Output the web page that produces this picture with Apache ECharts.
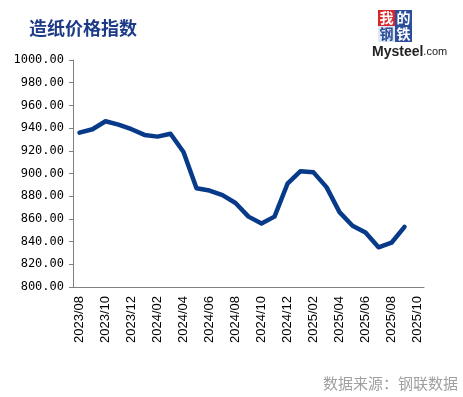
<!DOCTYPE html>
<html>
<head>
<meta charset="utf-8">
<script src="https://cdn.jsdelivr.net/npm/echarts@6/dist/echarts.min.js"></script>
<style>
  html, body { margin: 0; padding: 0; background: #fff; }
  #chart { width: 463px; height: 397px; }
</style>
</head>
<body>
<div id="chart"></div>
<script>
// months on the x axis (last one has no value yet)
const months = [
  "2023/08", "2023/09", "2023/10", "2023/11", "2023/12", "2024/01", "2024/02",
  "2024/03", "2024/04", "2024/05", "2024/06", "2024/07", "2024/08", "2024/09",
  "2024/10", "2024/11", "2024/12", "2025/01", "2025/02", "2025/03", "2025/04",
  "2025/05", "2025/06", "2025/07", "2025/08", "2025/09", "2025/10"
];
// paper price index
const paperIndex = [
  936, 939, 946, 943, 939, 934, 932.5, 935, 919, 887, 885, 881, 874, 862,
  856, 862, 891, 902, 901, 888, 866, 854, 848, 835, 839, 853
];

const chart = echarts.init(document.getElementById("chart"));

const option = {
  backgroundColor: "#fff",
  animation: false,
  grid: { left: 73, right: 39, top: 60, bottom: 110 },
  xAxis: {
    type: "category",
    data: months,
    boundaryGap: true,
    axisLine: { lineStyle: { color: "#808080", width: 1 } },
    axisTick: { interval: 1, length: 6, lineStyle: { color: "#808080" } },
    axisLabel: {
      interval: 1,
      rotate: 90,
      margin: 9,
      color: "#000",
      fontSize: 13,
      fontFamily: "Liberation Sans"
    }
  },
  yAxis: {
    type: "value",
    min: 800,
    max: 1000,
    interval: 20,
    splitLine: { show: false },
    axisLine: { show: true, lineStyle: { color: "#808080", width: 1 } },
    axisTick: { show: true, length: 4, lineStyle: { color: "#808080" } },
    axisLabel: {
      margin: 9,
      color: "#000",
      fontSize: 12,
      fontFamily: "DejaVu Sans Mono",
      formatter: v => v.toFixed(2)
    }
  },
  series: [{
    name: "造纸价格指数",
    type: "line",
    data: paperIndex,
    symbol: "none",
    lineStyle: { color: "#073b8a", width: 4.5, join: "round", cap: "round" }
  }],
  graphic: [
    {
      type: "text", left: 29, top: 19,
      style: {
        text: "造纸价格指数",
        fill: "#1c3a86",
        font: "bold 18px 'Noto Sans CJK SC'"
      }
    },
    // Mysteel logo
    { type: "rect", shape: { x: 378, y: 10, width: 17, height: 16 }, style: { fill: "#d9262b" } },
    { type: "rect", shape: { x: 395, y: 10, width: 17, height: 16 }, style: { fill: "#2c4e9b" } },
    { type: "rect", shape: { x: 378, y: 26, width: 17, height: 16 }, style: { fill: "#dfe7f5" } },
    { type: "rect", shape: { x: 395, y: 26, width: 17, height: 16 }, style: { fill: "#2c4e9b" } },
    { type: "text", x: 386.5, y: 18, style: { text: "我", fill: "#fff", font: "bold 14px 'Noto Sans CJK SC'", align: "center", verticalAlign: "middle" } },
    { type: "text", x: 403.5, y: 18, style: { text: "的", fill: "#fff", font: "bold 14px 'Noto Sans CJK SC'", align: "center", verticalAlign: "middle" } },
    { type: "text", x: 386.5, y: 34, style: { text: "钢", fill: "#2c4e9b", font: "bold 14px 'Noto Sans CJK SC'", align: "center", verticalAlign: "middle" } },
    { type: "text", x: 403.5, y: 34, style: { text: "铁", fill: "#fff", font: "bold 14px 'Noto Sans CJK SC'", align: "center", verticalAlign: "middle" } },
    {
      type: "text", x: 372, y: 52,
      style: {
        text: "{m|Mysteel}{c|.com}",
        verticalAlign: "middle",
        rich: {
          m: { fontSize: 14, fontWeight: "bold", fill: "#222", fontFamily: "Liberation Sans" },
          c: { fontSize: 11, fill: "#222", fontFamily: "Liberation Sans" }
        }
      }
    },
    {
      type: "text", right: 5, top: 376,
      style: {
        text: "数据来源：钢联数据",
        fill: "#a0a0a0",
        font: "15px 'Noto Sans CJK SC'"
      }
    }
  ]
};

chart.setOption(option);
</script>
</body>
</html>
